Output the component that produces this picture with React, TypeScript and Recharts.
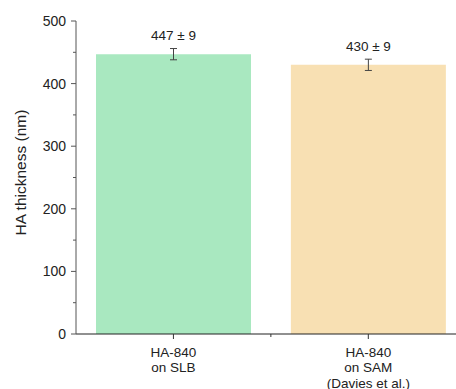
import React from 'react';
import { BarChart, Bar, XAxis, YAxis, ErrorBar, Cell, LabelList } from 'recharts';

const positions = [1, 2];
const categoryLines = [['HA-840', 'on SLB'], ['HA-840', 'on SAM', '(Davies et al.)']];
const values = [447, 430];
const errors = [9, 9];
const colors = ['#A9E8C0', '#F8E0B3'];
const yTicks = [0, 50, 100, 150, 200, 250, 300, 350, 400, 450, 500];
const xTicks = [1, 1.5, 2];
const yTitle = 'HA thickness (nm)';

const data = positions.map((p, i) => ({ pos: p, value: values[i], err: errors[i] }));

const FONT = '"Liberation Sans", Arial, sans-serif';

const YTick = (props: any) => {
  const { x, y, payload } = props;
  const v = payload.value as number;
  const major = v % 100 === 0;
  return (
    <g>
      <line x1={x - (major ? 5 : 3)} x2={x} y1={y} y2={y} stroke="#555" strokeWidth={1} />
      {major && (
        <text x={x - 10} y={y} textAnchor="end" dominantBaseline="central" fontSize={14} fontFamily={FONT} fill="#222">
          {v}
        </text>
      )}
    </g>
  );
};

const XTick = (props: any) => {
  const { x, y, payload } = props;
  const v = payload.value as number;
  const idx = positions.indexOf(v);
  const major = idx >= 0;
  return (
    <g>
      <line x1={x} x2={x} y1={y} y2={y + (major ? 5 : 3)} stroke="#333" strokeWidth={1} />
      {major && (
        <text x={x} y={y + 22.5} textAnchor="middle" fontSize={13.5} fontFamily={FONT} fill="#222">
          {categoryLines[idx].map((line, j) => (
            <tspan key={j} x={x} dy={j === 0 ? 0 : 15.5}>
              {line}
            </tspan>
          ))}
        </text>
      )}
    </g>
  );
};

const ValueLabel = (props: any) => {
  const { x, y, width, index } = props;
  return (
    <text x={x + width / 2} y={y - 18.5} textAnchor="middle" dominantBaseline="central" fontSize={13.5} fontFamily={FONT} fill="#222">
      {`${values[index]} ± ${errors[index]}`}
    </text>
  );
};

const YTitle = (props: any) => {
  const vb = props.viewBox || {};
  const cx = 20;
  const cy = (vb.y ?? 21) + (vb.height ?? 313) / 2 - 5;
  return (
    <text
      x={cx}
      y={cy}
      transform={`rotate(-90, ${cx}, ${cy})`}
      textAnchor="middle"
      dominantBaseline="central"
      fontSize={15.5}
      fontFamily={FONT}
      fill="#222"
    >
      {yTitle}
    </text>
  );
};

export default function App() {
  return (
    <div style={{ position: 'absolute', left: 0, top: 0, width: 456, height: 389, overflow: 'hidden', background: '#fff' }}>
      <BarChart width={456} height={389} data={data} margin={{ top: 21, right: 0, left: 0, bottom: 0 }}>
        <XAxis
          dataKey="pos"
          type="number"
          domain={[0.5, 2.45]}
          ticks={xTicks}
          interval={0}
          height={55}
          tickSize={0}
          tickMargin={0}
          tickLine={false}
          axisLine={{ stroke: '#222', strokeWidth: 1.2 }}
          tick={<XTick />}
          allowDataOverflow
        />
        <YAxis
          type="number"
          domain={[0, 500]}
          ticks={yTicks}
          interval={0}
          width={76}
          tickSize={0}
          tickMargin={0}
          tickLine={false}
          axisLine={{ stroke: '#555', strokeWidth: 1 }}
          tick={<YTick />}
          label={<YTitle />}
        />
        <Bar dataKey="value" barSize={155} isAnimationActive={false}>
          {data.map((d, i) => (
            <Cell key={i} fill={colors[i]} />
          ))}
          <ErrorBar dataKey="err" width={3.5} stroke="#444" strokeWidth={1} />
          <LabelList dataKey="value" content={<ValueLabel />} />
        </Bar>
      </BarChart>
    </div>
  );
}
